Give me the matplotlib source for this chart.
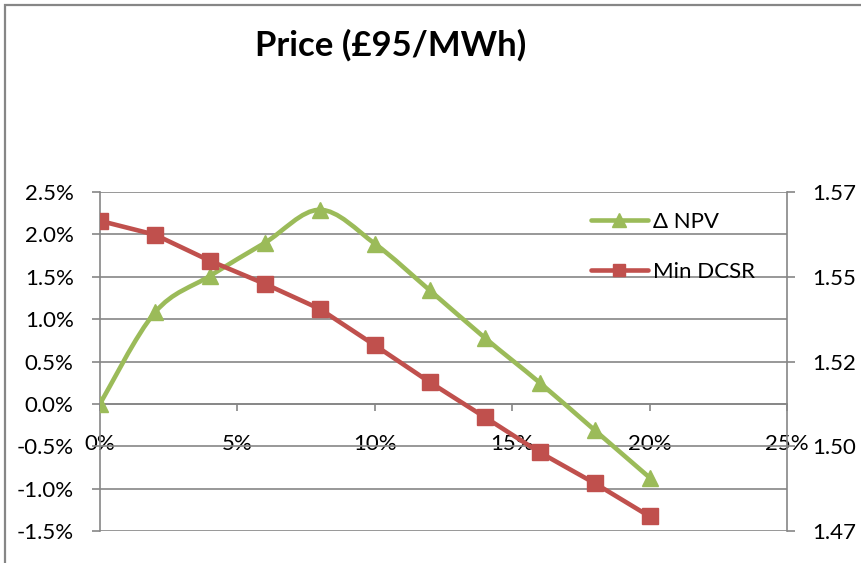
import numpy as np
import matplotlib.pyplot as plt
from matplotlib.path import Path
from matplotlib.patches import PathPatch
from matplotlib.lines import Line2D
from matplotlib.patches import Rectangle

plt.rcParams['font.family'] = ['Lato', 'DejaVu Sans']

# data
share = [0, 2, 4, 6, 8, 10, 12, 14, 16, 18, 20]          # x, percent
npv = [0.0, 1.08, 1.51, 1.90, 2.29, 1.89, 1.34, 0.78, 0.25, -0.31, -0.87]  # percent
dcsr = [1.5665, 1.5624, 1.5547, 1.5479, 1.5405, 1.5298, 1.5189, 1.5086,
        1.4982, 1.4891, 1.4793]

left_ticks = [-1.5, -1.0, -0.5, 0.0, 0.5, 1.0, 1.5, 2.0, 2.5]
right_ticks = [1.475, 1.5, 1.525, 1.55, 1.575]
right_labels = ['1.47', '1.50', '1.52', '1.55', '1.57']
x_ticks = [0, 5, 10, 15, 20, 25]

green = '#9BBB59'
red = '#C0504D'
grey = '#868686'
fs = 16


def smooth_path(xs, ys, t=1 / 6):
    # bezier segments like excel's smoothed line
    xs = np.asarray(xs, float)
    ys = np.asarray(ys, float)
    n = len(xs)
    verts = [(xs[0], ys[0])]
    codes = [Path.MOVETO]
    for i in range(n - 1):
        p0 = i - 1 if i > 0 else i
        p3 = i + 2 if i + 2 < n else i + 1
        c1 = (xs[i] + (xs[i + 1] - xs[p0]) * t, ys[i] + (ys[i + 1] - ys[p0]) * t)
        c2 = (xs[i + 1] - (xs[p3] - xs[i]) * t, ys[i + 1] - (ys[p3] - ys[i]) * t)
        verts += [c1, c2, (xs[i + 1], ys[i + 1])]
        codes += [Path.CURVE4] * 3
    return Path(verts, codes)


fig = plt.figure(figsize=(8.61, 5.63), dpi=100)
fig.patches.append(Rectangle((5 / 861, -0.1), 2, 1.1 - 5 / 563,
                             transform=fig.transFigure,
                             fill=False, edgecolor=grey, linewidth=1.6))

ax = fig.add_axes([100 / 861, 32 / 563, 687 / 861, 339 / 563])
ax.set_xlim(0, 25)
ax.set_ylim(-1.5, 2.5)
ax.set_yticks(left_ticks)
ax.set_yticklabels(['%.1f%%' % v for v in left_ticks])
ax.set_xticks(x_ticks)
ax.set_xticklabels(['%d%%' % v for v in x_ticks])
ax.grid(axis='y', color=grey, linewidth=1.2)
ax.set_axisbelow(True)
for s in ['top', 'right']:
    ax.spines[s].set_visible(False)
ax.spines['bottom'].set_position(('data', 0))
for s in ['left', 'bottom']:
    ax.spines[s].set_color(grey)
    ax.spines[s].set_linewidth(1.2)
ax.tick_params(axis='y', direction='out', length=6, width=1.2, color=grey,
               pad=13, labelsize=fs)
ax.tick_params(axis='x', direction='out', length=5, width=1.2, color=grey,
               pad=17, labelsize=fs)

ax.add_patch(PathPatch(smooth_path(share, npv), fill=False, edgecolor=green,
                       linewidth=3.3, capstyle='round', joinstyle='round', zorder=3))
ax.plot(share, npv, linestyle='none', marker='^', markersize=12,
        color=green, zorder=4)

ax2 = ax.twinx()
ax2.set_ylim(1.475, 1.575)
ax2.set_yticks(right_ticks)
ax2.set_yticklabels(right_labels)
for s in ['top', 'left', 'bottom']:
    ax2.spines[s].set_visible(False)
ax2.spines['right'].set_color(grey)
ax2.spines['right'].set_linewidth(1.2)
ax2.tick_params(axis='y', direction='out', length=6, width=1.2, color=grey,
                pad=12, labelsize=fs)
ax2.plot(share, dcsr, color=red, linewidth=3.3, marker='s', markersize=11,
         solid_capstyle='round', zorder=4)

handles = [Line2D([], [], color=green, linewidth=3.3, marker='^', markersize=10,
                  solid_capstyle='round'),
           Line2D([], [], color=red, linewidth=3.3, marker='s', markersize=9,
                  solid_capstyle='round')]
ax2.legend(handles, ['\u0394 NPV', 'Min DCSR'], loc='upper left',
           bbox_to_anchor=(0.685, 1.0), frameon=False, fontsize=fs,
           handlelength=2.6, handletextpad=0.2, labelspacing=1.35, numpoints=1)

fig.text(391 / 861, 1 - 45 / 563, 'Price (\u00a395/MWh)', ha='center', va='center',
         fontsize=25, fontweight='bold')

fig.savefig('out.png', dpi=100)
